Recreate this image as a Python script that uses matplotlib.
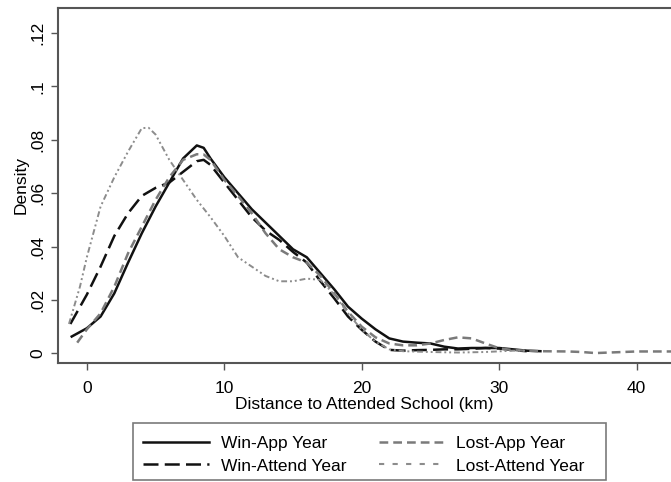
import matplotlib
matplotlib.use("Agg")
import matplotlib.pyplot as plt
from matplotlib.lines import Line2D
from matplotlib.patches import Rectangle

plt.rcParams['font.family'] = ['Liberation Sans', 'DejaVu Sans']

# distance (km) and density
win_app_x = [-1.1, 0, 1, 2, 3, 4, 5, 6, 7, 8, 8.5, 9, 10, 11, 12, 13, 14, 15, 16, 17, 18, 19, 20,
             21, 22, 23, 24, 25, 26, 27, 28, 29, 30, 31, 32, 33]
win_app_y = [0.0063, 0.0094, 0.0138, 0.0225, 0.034, 0.045, 0.055, 0.064, 0.073, 0.0779, 0.077,
             0.073, 0.066, 0.060, 0.054, 0.049, 0.044, 0.039, 0.036, 0.030, 0.024, 0.0175, 0.013,
             0.009, 0.0056, 0.0044, 0.004, 0.0037, 0.0025, 0.0018, 0.002, 0.002, 0.002, 0.0015,
             0.001, 0.0008]

win_att_x = [-1.2, 0, 1, 2, 3, 4, 5, 6, 7, 8, 8.5, 9, 10, 11, 12, 13, 14, 15, 16, 17, 18, 19, 20,
             21, 22, 23, 24, 25, 26, 27, 28, 29, 30, 31, 32]
win_att_y = [0.011, 0.022, 0.0325, 0.044, 0.0525, 0.059, 0.062, 0.064, 0.068, 0.072, 0.0725,
             0.0706, 0.064, 0.0575, 0.051, 0.046, 0.0425, 0.038, 0.034, 0.027, 0.0206, 0.0138,
             0.0088, 0.0044, 0.0013, 0.001, 0.0012, 0.0013, 0.0015, 0.0015, 0.0017, 0.002,
             0.0018, 0.0012, 0.0008]

lost_app_x = [-0.7, 0, 1, 2, 3, 4, 5, 6, 7, 8, 8.5, 9, 10, 11, 12, 13, 14, 15, 16, 17, 18, 19, 20,
              21, 22, 23, 24, 25, 26, 27, 28, 29, 30, 31, 33, 35, 36, 37, 38, 40, 43]
lost_app_y = [0.004, 0.009, 0.015, 0.025, 0.0375, 0.0475, 0.0575, 0.066, 0.0725, 0.0746, 0.0745,
              0.0725, 0.065, 0.059, 0.0525, 0.045, 0.039, 0.036, 0.034, 0.029, 0.0225, 0.0156,
              0.010, 0.006, 0.0037, 0.003, 0.003, 0.0037, 0.005, 0.006, 0.0056, 0.0037, 0.0019,
              0.0012, 0.0008, 0.0007, 0.0005, 0.0001, 0.0003, 0.0007, 0.0007]

lost_att_x = [-1.3, -0.5, 0, 1, 2, 3, 4, 4.5, 5, 6, 7, 8, 9, 10, 11, 12, 13, 14, 15, 16, 17, 18,
              19, 20, 21, 22, 23, 25, 27, 29, 31, 32]
lost_att_y = [0.011, 0.025, 0.036, 0.055, 0.066, 0.0756, 0.0844, 0.0845, 0.082, 0.0725, 0.065,
              0.0575, 0.051, 0.044, 0.036, 0.0325, 0.029, 0.027, 0.027, 0.028, 0.0275, 0.022,
              0.015, 0.0088, 0.0044, 0.0015, 0.0008, 0.0005, 0.0003, 0.0005, 0.001, 0.001]

labels = ["Win-App Year", "Win-Attend Year", "Lost-App Year", "Lost-Attend Year"]
xticks = [0, 10, 20, 30, 40]
yticks = [0, 0.02, 0.04, 0.06, 0.08, 0.1, 0.12]
ytick_labels = ["0", ".02", ".04", ".06", ".08", ".1", ".12"]

black = "#111111"
gray = "#7a7a7a"
light = "#8c8c8c"
frame = "#555555"
fs = 12.5
W, H = 671, 482

fig = plt.figure(figsize=(6.71, 4.82), dpi=100)
ax = fig.add_axes([0.0864, 0.247, 0.9136, 0.7364])

ax.plot(win_app_x, win_app_y, color=black, lw=1.8, ls='-')
ax.plot(win_att_x, win_att_y, color=black, lw=1.8, ls=(0, (6, 2.5)))
ax.plot(lost_app_x, lost_app_y, color=gray, lw=1.8, ls=(0, (3.5, 2)))
ax.plot(lost_att_x, lost_att_y, color=light, lw=1.4, ls=(0, (3, 1.5, 1, 1.5, 1, 1.5)))

ax.set_xlim(-2.1, 42.5)
ax.set_ylim(-0.0036, 0.1294)
ax.set_xticks(xticks)
ax.set_yticks(yticks)
ax.set_yticklabels(ytick_labels, rotation=90, va='center')
ax.tick_params(direction='out', length=5, width=1, color=frame, labelsize=fs, pad=4)
ax.tick_params(axis='x', pad=8)
ax.set_xlabel("Distance to Attended School (km)", fontsize=fs, labelpad=1)
ax.set_ylabel("Density", fontsize=fs, labelpad=1)
for side in ['left', 'bottom', 'top']:
    ax.spines[side].set_color(frame)
    ax.spines[side].set_linewidth(1.5)
ax.spines['right'].set_visible(False)

handles = [
    Line2D([], [], color=black, lw=1.8, ls='-'),
    Line2D([], [], color=black, lw=1.8, ls=(0, (6, 2.5))),
    Line2D([], [], color=gray, lw=1.8, ls=(0, (3.5, 2))),
    Line2D([], [], color=light, lw=1.5, ls=(0, (2.5, 4))),
]
fig.legend(handles, labels, ncol=2, loc='center',
           bbox_to_anchor=(364 / W, 1 - 454.5 / H), fontsize=fs,
           handlelength=3.8, handletextpad=0.65, columnspacing=1.9,
           labelspacing=0.45, borderpad=0.3, borderaxespad=0, frameon=False)

# legend box, as in the reference (wider on the right than the entries)
fig.patches.append(Rectangle((133 / W, 1 - 480 / H), (606 - 133) / W, (480 - 423) / H,
                             transform=fig.transFigure, fill=False,
                             edgecolor=gray, linewidth=1.2))

fig.savefig("out.png", dpi=100)
